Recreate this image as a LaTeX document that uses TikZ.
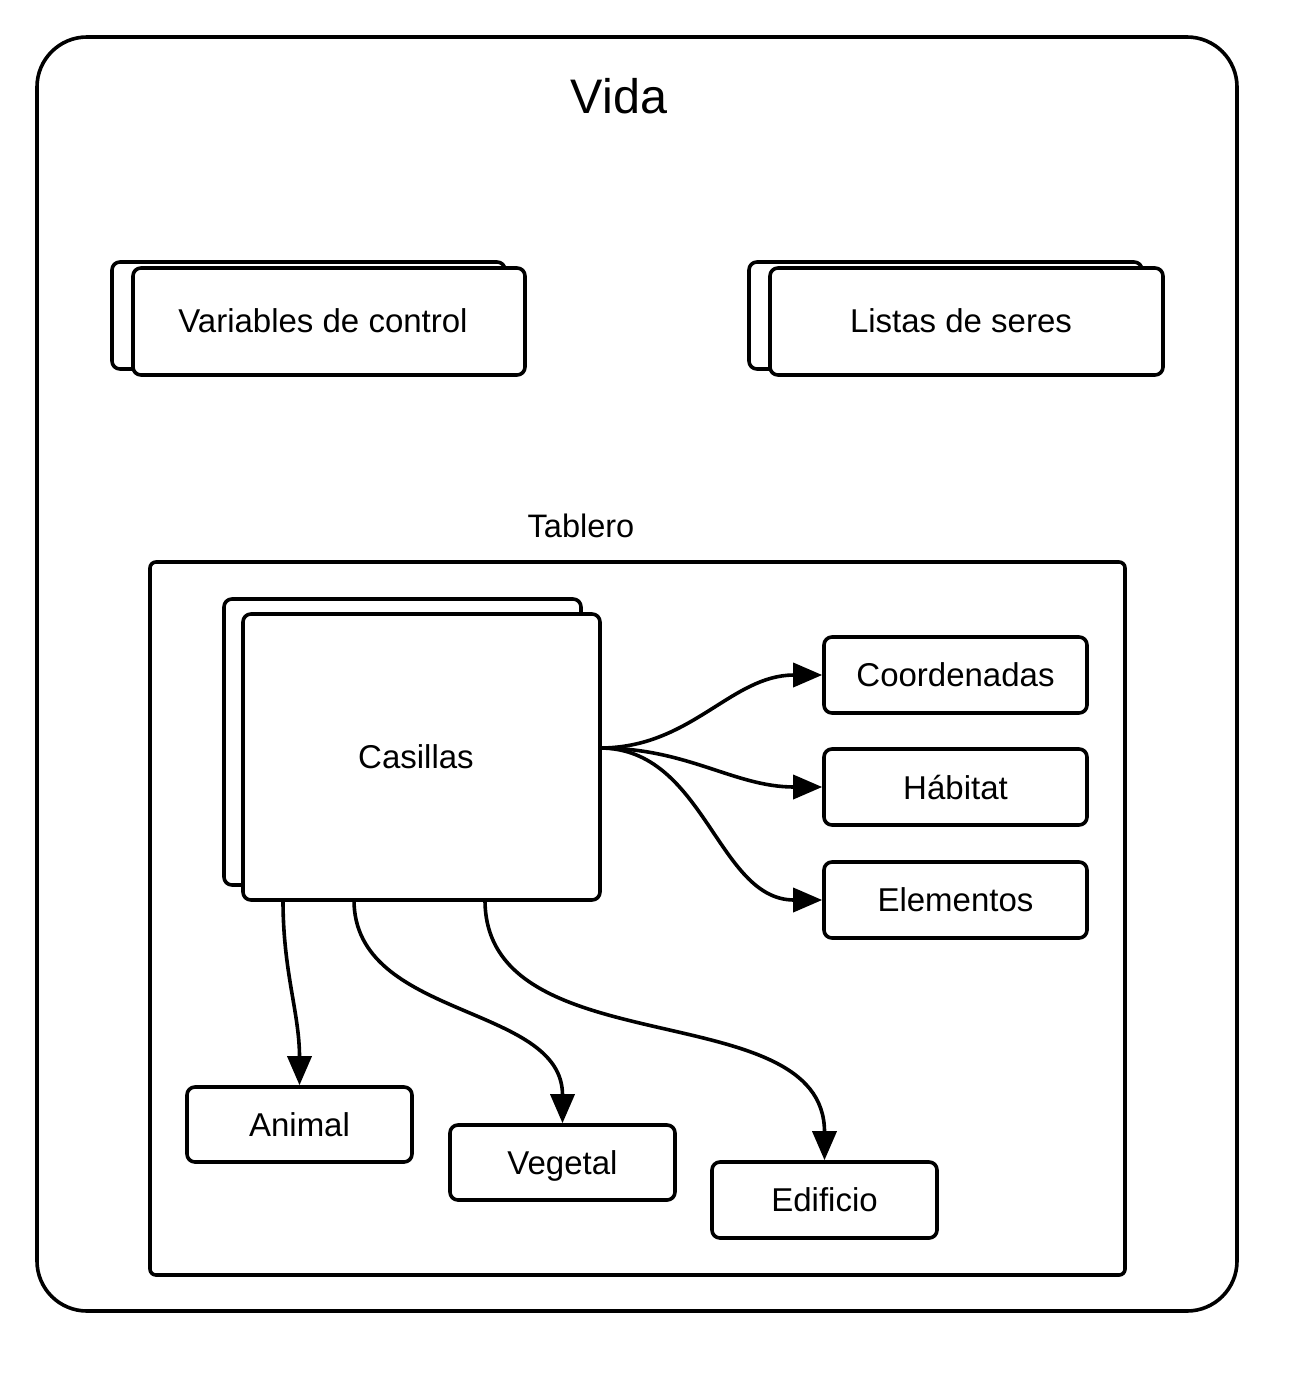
\documentclass[tikz,border=0pt]{standalone}
\usepackage{fontspec}
\setmainfont{Liberation Sans}
\usetikzlibrary{arrows.meta}
\begin{document}
\begin{tikzpicture}[x=1pt,y=-1pt,
  ln/.style={line width=3.6pt},
  box/.style={draw, ln, rounded corners=8pt, fill=white, inner sep=0pt,
    text depth=0pt, font=\fontsize{33}{40}\selectfont},
  lbl/.style={font=\fontsize{33}{40}\selectfont, inner sep=0pt, text depth=0pt},
  arr/.style={ln, -{Triangle[length=29pt,width=24pt]}}]
\useasboundingbox (0,0) rectangle (1301,1384);
% outer
\node[draw, ln, rounded corners=50pt, minimum width=1200pt, minimum height=1274pt] (vida) at (637,674) {};
\node[font=\fontsize{48.5}{56}\selectfont] (vidat) at (619,96) {Vida};
% Variables de control
\node[box, minimum width=393pt, minimum height=107pt] (vcb) at (308.5,315.5) {};
\node[box, minimum width=392pt, minimum height=107pt] (vc) at (329,321.5) {};
\node[lbl] (vct) at (323,321) {Variables de control};
% Listas de seres
\node[box, minimum width=393pt, minimum height=107pt] (lsb) at (945.5,315.5) {};
\node[box, minimum width=393pt, minimum height=107pt] (ls) at (966.5,321.5) {};
\node[lbl] (lst) at (961,321) {Listas de seres};
% Tablero
\node[font=\fontsize{32.5}{40}\selectfont] (tabt) at (581,526) {Tablero};
\node[draw, ln, rounded corners=6pt, minimum width=975pt, minimum height=713pt] (tab) at (637.5,918.5) {};
% Casillas
\node[box, minimum width=357pt, minimum height=286pt] (casb) at (402.5,742) {};
\node[box, minimum width=357pt, minimum height=286pt] (cas) at (421.5,757) {};
\node[lbl] (cast) at (416,757) {Casillas};
% right boxes
\node[box, minimum width=263pt, minimum height=76pt] (coord) at (955.5,675) {Coordenadas};
\node[box, minimum width=263pt, minimum height=76pt] (hab) at (955.5,787) {Hábitat};
\node[box, minimum width=263pt, minimum height=76pt] (elem) at (955.5,900) {Elementos};
% bottom boxes
\node[box, minimum width=225pt, minimum height=75pt] (anim) at (299.5,1124.5) {Animal};
\node[box, minimum width=225pt, minimum height=75pt] (veg) at (562.5,1162.5) {Vegetal};
\node[box, minimum width=225pt, minimum height=76pt] (edif) at (824.5,1200) {Edificio};
% connector sources
\coordinate (src) at (600,748);
\coordinate (s1) at (283,900);
\coordinate (s2) at (354,900);
\coordinate (s3) at (485,900);
\draw[arr] (src) to[out=0,in=180] (coord.west);
\draw[arr] (src) to[out=0,in=180] (hab.west);
\draw[arr] (src) to[out=0,in=180] (elem.west);
\draw[arr] (s1) to[out=-90,in=90] (anim.north);
\draw[arr] (s2) to[out=-90,in=90] (veg.north);
\draw[arr] (s3) to[out=-90,in=90] (edif.north);
\end{tikzpicture}
\end{document}
